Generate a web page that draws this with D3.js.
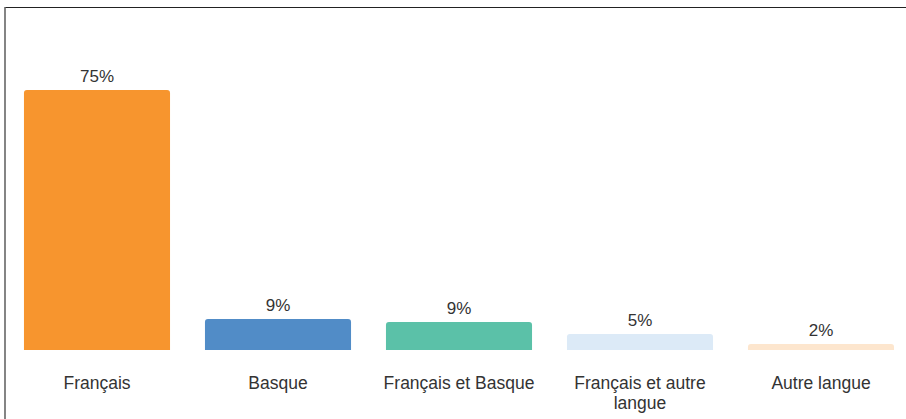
<!DOCTYPE html>
<html>
<head>
<meta charset="utf-8">
<script src="https://cdn.jsdelivr.net/npm/d3@7"></script>
<style>
  body { margin: 0; background: #fff; }
  svg { display: block; }
  text { font-family: "Liberation Sans", Arial, sans-serif; fill: #333; }
</style>
</head>
<body>
<div id="wrapper"></div>
<script>
// data
const categories = ["Français", "Basque", "Français et Basque", "Français et autre langue", "Autre langue"]
const values = [75, 8.95, 8.1, 4.6, 1.75]
const valueLabels = ["75%", "9%", "9%", "5%", "2%"]
const colors = ["#f7952e", "#518cc7", "#5bc1a8", "#dceaf7", "#fde6ce"]

const width = 906, height = 419
const baseY = 350

const svg = d3.select("#wrapper").append("svg")
  .attr("width", width)
  .attr("height", height)

// frame
svg.append("line")
  .attr("x1", 5).attr("x2", width).attr("y1", 7.5).attr("y2", 7.5)
  .attr("stroke", "#222").attr("stroke-width", 1.2)
svg.append("line")
  .attr("x1", 5).attr("x2", 5).attr("y1", 7).attr("y2", height)
  .attr("stroke", "#666").attr("stroke-width", 1.6)

const xScale = d3.scaleBand()
  .domain(categories)
  .range([6.5, 911.5])
  .paddingInner(0.193)
  .paddingOuter(0.0965)

const yScale = d3.scaleLinear()
  .domain([0, 75])
  .range([baseY, 90])

const r = 3
function barPath(x, y, w, h) {
  const rr = Math.min(r, h, w / 2)
  return `M${x},${y + h}V${y + rr}Q${x},${y} ${x + rr},${y}H${x + w - rr}Q${x + w},${y} ${x + w},${y + rr}V${y + h}Z`
}

const data = categories.map((c, i) => ({ cat: c, v: values[i], label: valueLabels[i], color: colors[i] }))

svg.selectAll("path.bar")
  .data(data)
  .enter().append("path")
    .attr("class", "bar")
    .attr("d", d => barPath(xScale(d.cat), yScale(d.v), xScale.bandwidth(), baseY - yScale(d.v)))
    .attr("fill", d => d.color)

svg.selectAll("text.val")
  .data(data)
  .enter().append("text")
    .attr("class", "val")
    .attr("x", d => xScale(d.cat) + xScale.bandwidth() / 2)
    .attr("y", d => yScale(d.v) - 8)
    .attr("text-anchor", "middle")
    .style("font-size", "17px")
    .text(d => d.label)

// category labels, wrapped a little wider than the band
const wrapWidth = xScale.bandwidth() + 14
const catText = svg.selectAll("text.cat")
  .data(data)
  .enter().append("text")
    .attr("class", "cat")
    .attr("text-anchor", "middle")
    .style("font-size", "17.5px")

catText.each(function(d) {
  const t = d3.select(this)
  const cx = xScale(d.cat) + xScale.bandwidth() / 2
  const words = d.cat.split(" ")
  let lines = [], line = []
  const tmp = t.append("tspan")
  words.forEach(w => {
    line.push(w)
    tmp.text(line.join(" "))
    if (tmp.node().getComputedTextLength() > wrapWidth && line.length > 1) {
      line.pop()
      lines.push(line.join(" "))
      line = [w]
    }
  })
  lines.push(line.join(" "))
  tmp.remove()
  lines.forEach((l, i) => {
    t.append("tspan")
      .attr("x", cx)
      .attr("y", 389 + i * 20)
      .text(l)
  })
})
</script>
</body>
</html>
